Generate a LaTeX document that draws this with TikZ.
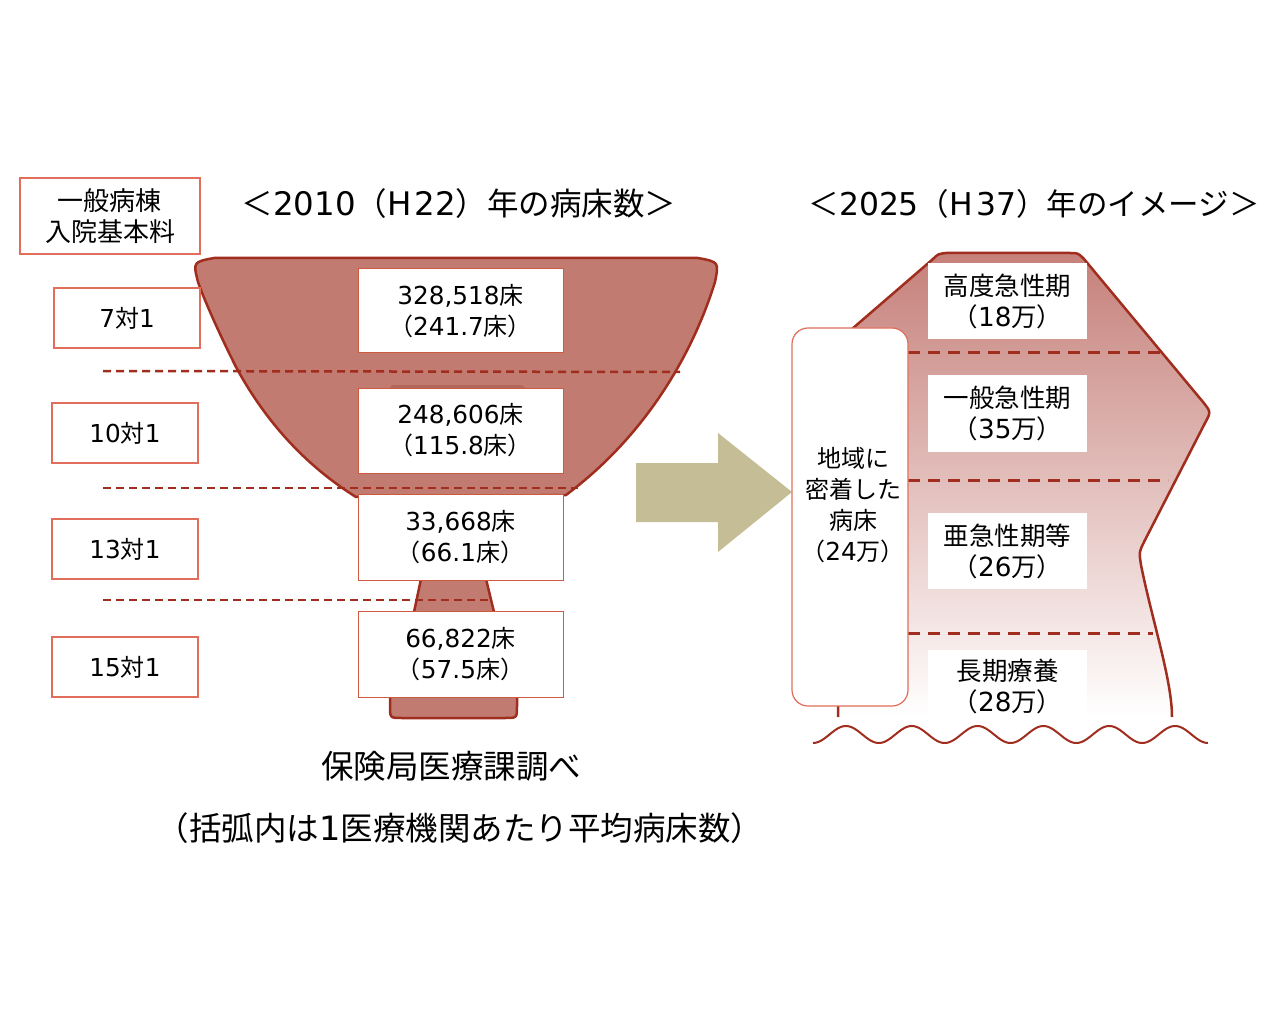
\documentclass[tikz,border=0pt]{standalone}
\usepackage{fontspec}
\setmainfont{Noto Sans CJK JP}
\newfontfamily\lat{DejaVu Sans}[Scale=1.03]
\definecolor{dred}{RGB}{160,45,30}
\definecolor{ffill}{RGB}{193,123,113}
\definecolor{lbord}{RGB}{224,110,90}
\definecolor{nbord}{RGB}{205,90,65}
\definecolor{arrowc}{RGB}{196,189,150}
\definecolor{gtop}{RGB}{198,128,122}
\begin{document}
\begin{tikzpicture}[x=1pt,y=-1pt,
  labbox/.style={draw=lbord,line width=1.2pt,fill=white,inner sep=0pt,align=center,font=\fontsize{24}{30}\selectfont},
  numbox/.style={draw=nbord,line width=1pt,fill=white,inner sep=0pt,minimum width=205,align=center,font=\fontsize{24}{31}\selectfont},
  rbox/.style={fill=white,inner sep=0pt,minimum width=159,align=center,font=\fontsize{25.5}{31}\selectfont},
  ttl/.style={inner sep=0pt,font=\fontsize{30.5}{36}\selectfont},
  note/.style={inner sep=0pt,font=\fontsize{32.5}{36}\selectfont},
  ldash/.style={draw=dred,line width=2.5pt,dash pattern=on 8pt off 5pt},
  rdash/.style={draw=dred,line width=3pt,dash pattern=on 12pt off 8pt},
  outl/.style={draw=dred,line width=2.5pt,line join=round}]
\useasboundingbox (0,0) rectangle (1280,1024);

% ---------- left funnel ----------
\filldraw[outl,fill=ffill] (356,497) .. controls (300,462) and (262,415) .. (236,367)
  .. controls (220,335) and (205,302) .. (198,282)
  .. controls (193,262) .. (214,258) -- (698,258) .. controls (719,262) .. (715,282)
  .. controls (690,362) and (640,440) .. (566,495) -- cycle;
\fill[fill={rgb,255:red,180;green,103;blue,93}] (388,395) -- (390,388) .. controls (391,385) .. (396,385) -- (518,385) .. controls (523,385) .. (525,388) -- (527,395) -- cycle;
\fill[ffill] (421,579) -- (486,579) -- (494,612) -- (414,612) -- cycle;
\draw[outl] (421,579) -- (414,612) (486,579) -- (494,612);
\filldraw[outl,fill=ffill] (390,696) -- (390,706) .. controls (390,718) .. (402,718) -- (505,718) .. controls (517,718) .. (517,706) -- (517,696);

% left dashed separators
\draw[ldash] (103,371) -- (680,372);
\draw[ldash] (103,488) -- (578,488);
\draw[ldash] (103,600) -- (491,600);

% left label boxes
\node[labbox,minimum width=180,minimum height=76,font=\fontsize{26}{31}\selectfont] (hdr) at (110,216) {一般病棟\\入院基本料};
\node[labbox,minimum width=146,minimum height=60] (l7) at (127,318) {{\lat 7}対{\lat 1}};
\node[labbox,minimum width=146,minimum height=60] (l10) at (125,433) {{\lat 10}対{\lat 1}};
\node[labbox,minimum width=146,minimum height=60] (l13) at (125,549) {{\lat 13}対{\lat 1}};
\node[labbox,minimum width=146,minimum height=60] (l15) at (125,667) {{\lat 15}対{\lat 1}};

% number boxes
\node[numbox,minimum height=84] (n1) at (460.5,311) {{\lat 328,518}床\\（{\lat 241.7}床）};
\node[numbox,minimum height=85] (n2) at (460.5,430.5) {{\lat 248,606}床\\（{\lat 115.8}床）};
\node[numbox,minimum height=86] (n3) at (460.5,537) {{\lat 33,668}床\\（{\lat 66.1}床）};
\node[numbox,minimum height=86] (n4) at (460.5,654) {{\lat 66,822}床\\（{\lat 57.5}床）};

% titles
\node[ttl,font=\fontsize{31.5}{36}\selectfont] (t1) at (459,204) {＜{\lat 2010}（{\lat H\hspace{3pt}22}）年の病床数＞};
\node[ttl] (t2) at (1034,204) {＜{\lat 2025}（{\lat H\hspace{3pt}37}）年のイメージ＞};

% big arrow
\fill[arrowc] (636,463) -- (718,463) -- (718,433) -- (792,492) -- (718,552) -- (718,522) -- (636,522) -- cycle;

% ---------- right shape ----------
\shade[top color=gtop,bottom color=white] (838,717) -- (845,335) -- (933,259)
  .. controls (938,254) .. (946,253) -- (1070,253) .. controls (1078,253) .. (1084,259)
  -- (1203,402) .. controls (1211,412) .. (1205,423) -- (1145,540)
  .. controls (1139,552) .. (1141,565) .. controls (1152,620) and (1172,680) .. (1172,717) -- cycle;
\draw[outl] (838,717) -- (845,335) -- (933,259)
  .. controls (938,254) .. (946,253) -- (1070,253) .. controls (1078,253) .. (1084,259)
  -- (1203,402) .. controls (1211,412) .. (1205,423) -- (1145,540)
  .. controls (1139,552) .. (1141,565) .. controls (1152,620) and (1172,680) .. (1172,717);

\draw[rdash] (908,353) -- (1167,353);
\draw[rdash] (908,480) -- (1168,480);
\draw[rdash] (908,633) -- (1153,633);

\node[rbox,minimum height=76] (r1) at (1007.5,301) {高度急性期\\（{\lat 18}万）};
\node[rbox,minimum height=77] (r2) at (1007.5,413.5) {一般急性期\\（{\lat 35}万）};
\node[rbox,minimum height=76] (r3) at (1007.5,551) {亜急性期等\\（{\lat 26}万）};
\node[rbox,minimum height=72] (r4) at (1007.5,686) {長期療養\\（{\lat 28}万）};

\node[draw=lbord,line width=1.2pt,fill=white,rounded corners=16pt,minimum width=116,minimum height=378,inner sep=0pt] (local) at (850,517) {};
\node[inner sep=0pt,align=center,font=\fontsize{24}{31}\selectfont] (localtxt) at (853,505) {地域に\\密着した\\病床\\（{\lat 24}万）};

% wave
\draw[dred,line width=2pt] plot[domain=0:6,samples=240,smooth] ({813+65.83*\x},{734.5+8.5*cos(360*\x)});

% notes
\node[note] (src) at (451,766) {保険局医療課調べ};
\node[note] (paren) at (460,828) {（括弧内は{\lat 1}医療機関あたり平均病床数）};
\end{tikzpicture}
\end{document}
